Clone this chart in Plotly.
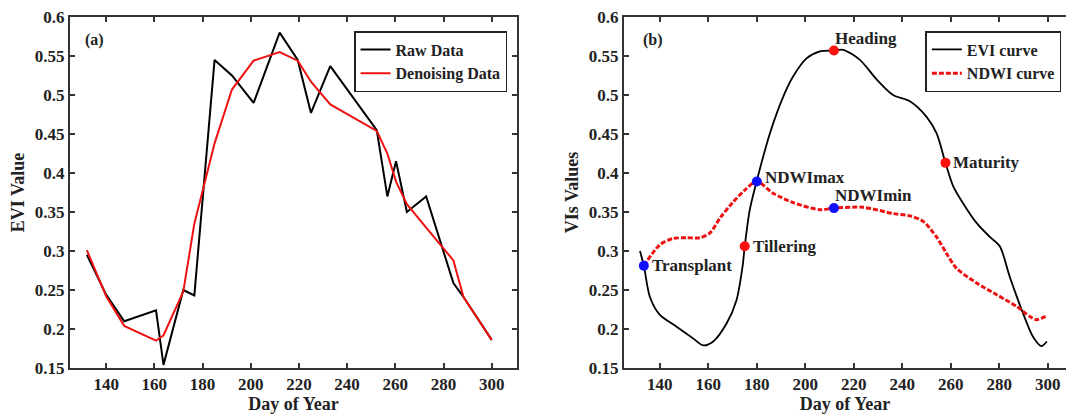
import plotly.graph_objects as go

# ---- Panel (a) data ----
raw_doy = [132, 140, 147.5, 160.7, 163.8, 172, 176.6, 185, 192.2, 201.2, 212, 219.5, 225, 233,
           252.3, 256.7, 260.3, 264.8, 272.8, 284.1, 288.3, 300]
raw_evi = [0.295, 0.244, 0.210, 0.224, 0.154, 0.250, 0.243, 0.545, 0.525, 0.490, 0.580, 0.545,
           0.477, 0.537, 0.455, 0.370, 0.415, 0.350, 0.370, 0.259, 0.241, 0.186]
den_evi = [0.301, 0.242, 0.204, 0.185, 0.192, 0.248, 0.335, 0.438, 0.507, 0.544, 0.555, 0.544,
           0.517, 0.488, 0.454, 0.425, 0.389, 0.360, 0.330, 0.288, 0.241, 0.186]

# ---- Panel (b) data ----
evi_doy = [131.8, 133.4, 135.9, 140, 146.9, 153.7, 157.9, 162, 167.5, 171.6, 174.1, 175, 177.1,
           179.9, 185.4, 190.9, 195, 200.5, 206, 211.8, 215.6, 222.5, 229.4, 236.2, 243.1, 250,
           254.1, 257.8, 261, 265.1, 270.6, 276.1, 280.2, 284.3, 289.8, 293.9, 297.3, 299.6]
evi_val = [0.300, 0.281, 0.241, 0.218, 0.203, 0.188, 0.179, 0.184, 0.207, 0.237, 0.280, 0.306, 0.353,
           0.389, 0.451, 0.498, 0.524, 0.547, 0.556, 0.557, 0.558, 0.545, 0.520, 0.500, 0.492, 0.472,
           0.451, 0.413, 0.383, 0.361, 0.336, 0.318, 0.306, 0.267, 0.220, 0.190, 0.178, 0.184]
ndwi_doy = [133.4, 140, 145.5, 151, 156.5, 160.6, 165, 170, 175, 180, 186.7, 195, 206, 211.8,
            223.9, 236.2, 243.1, 248.6, 254.1, 258.2, 262.3, 270.6, 278.9, 287.1, 292.6, 295.3, 299.6]
ndwi_val = [0.281, 0.308, 0.316, 0.317, 0.317, 0.323, 0.343, 0.362, 0.378, 0.389, 0.374, 0.362,
            0.353, 0.355, 0.356, 0.348, 0.345, 0.338, 0.318, 0.297, 0.278, 0.259, 0.244, 0.229,
            0.216, 0.212, 0.217]

event_names = ["Transplant", "Tillering", "NDWImax", "Heading", "NDWImin", "Maturity"]
event_doy = [133.4, 175, 180, 211.8, 211.8, 257.8]
event_val = [0.281, 0.306, 0.389, 0.557, 0.355, 0.413]
event_color = ["#1010ff", "#ff1010", "#1010ff", "#ff1010", "#1010ff", "#ff1010"]
event_above = [False, False, False, True, True, False]

y_ticks = [0.15, 0.2, 0.25, 0.3, 0.35, 0.4, 0.45, 0.5, 0.55, 0.6]
y_labels = ["0.15", "0.2", "0.25", "0.3", "0.35", "0.4", "0.45", "0.5", "0.55", "0.6"]
x_ticks = [140, 160, 180, 200, 220, 240, 260, 280, 300]

FONT = "Liberation Serif"
AX = "#333333"

fig = go.Figure()
fig.add_trace(go.Scatter(x=raw_doy, y=raw_evi, mode="lines", name="<b>Raw Data</b>",
                         line=dict(color="black", width=2), xaxis="x", yaxis="y", legend="legend"))
fig.add_trace(go.Scatter(x=raw_doy, y=den_evi, mode="lines", name="<b>Denoising Data</b>",
                         line=dict(color="#ee1111", width=2), xaxis="x", yaxis="y", legend="legend"))
fig.add_trace(go.Scatter(x=evi_doy, y=evi_val, mode="lines", name="<b>EVI curve</b>",
                         line=dict(color="black", width=1.8, shape="spline", smoothing=0.8),
                         xaxis="x2", yaxis="y2", legend="legend2"))
fig.add_trace(go.Scatter(x=ndwi_doy, y=ndwi_val, mode="lines", name="<b>NDWI curve</b>",
                         line=dict(color="#ee1111", width=3, dash="5px,2px", shape="spline", smoothing=0.8),
                         xaxis="x2", yaxis="y2", legend="legend2"))
fig.add_trace(go.Scatter(x=event_doy, y=event_val, mode="markers",
                         marker=dict(color=event_color, size=10), showlegend=False,
                         xaxis="x2", yaxis="y2", cliponaxis=False))

annotations = [
    dict(text="<b>(a)</b>", x=0.013, y=0.935, xref="paper", yref="paper", showarrow=False,
         xanchor="left", yanchor="middle", font=dict(family=FONT, size=16, color="#222")),
    dict(text="<b>(b)</b>", x=0.573, y=0.935, xref="paper", yref="paper", showarrow=False,
         xanchor="left", yanchor="middle", font=dict(family=FONT, size=16, color="#222")),
]
for name, dx, dy, above in zip(event_names, event_doy, event_val, event_above):
    if above:
        annotations.append(dict(text="<b>%s</b>" % name, x=dx, y=dy, xref="x2", yref="y2",
                                showarrow=False, xanchor="left", yanchor="bottom", xshift=-1, yshift=1,
                                font=dict(family=FONT, size=17, color="#222")))
    else:
        annotations.append(dict(text="<b>%s</b>" % name, x=dx, y=dy, xref="x2", yref="y2",
                                showarrow=False, xanchor="left", yanchor="middle", xshift=6,
                                yshift=(4 if name == "NDWImax" else 0),
                                font=dict(family=FONT, size=17, color="#222")))

axis_common = dict(showline=True, linecolor=AX, linewidth=2, mirror="ticks", ticks="inside",
                   ticklen=5, tickwidth=1.5, tickcolor=AX, showgrid=False, zeroline=False,
                   tickfont=dict(family=FONT, size=17, color="#222"))
title_font = dict(family=FONT, size=18, color="#222")

fig.update_layout(
    width=1066, height=417, plot_bgcolor="white", paper_bgcolor="white",
    margin=dict(l=70, r=0, t=17, b=49),
    font=dict(family=FONT),
    xaxis=dict(domain=[0, 0.4488], range=[125, 310.5], tickvals=x_ticks, anchor="y",
               title=dict(text="<b>Day of Year</b>", font=title_font, standoff=2), **axis_common),
    yaxis=dict(domain=[0, 1], range=[0.15, 0.6], tickvals=y_ticks, ticktext=["<b>%s</b>" % t for t in y_labels],
               anchor="x", title=dict(text="<b>EVI Value</b>", font=title_font, standoff=6), **axis_common),
    xaxis2=dict(domain=[0.5562, 1], range=[125.2, 307.5], tickvals=x_ticks, anchor="y2",
                title=dict(text="<b>Day of Year</b>", font=title_font, standoff=2), **axis_common),
    yaxis2=dict(domain=[0, 1], range=[0.15, 0.6], tickvals=y_ticks, ticktext=["<b>%s</b>" % t for t in y_labels],
                anchor="x2", title=dict(text="<b>VIs Values</b>", font=title_font, standoff=6),
                **{**axis_common, "mirror": False}),
    legend=dict(x=0.2852, y=0.96, xanchor="left", yanchor="top", bordercolor="#222", borderwidth=1.5,
                bgcolor="white", font=dict(family=FONT, size=16, color="#222"), tracegroupgap=0,
                itemwidth=30),
    legend2=dict(x=0.8588, y=0.96, xanchor="left", yanchor="top", bordercolor="#222", borderwidth=1.5,
                 bgcolor="white", font=dict(family=FONT, size=16, color="#222"), tracegroupgap=0,
                 itemwidth=30),
    annotations=annotations,
)
fig.update_xaxes(ticktext=["<b>%d</b>" % t for t in x_ticks])

fig.write_html("out.html")
